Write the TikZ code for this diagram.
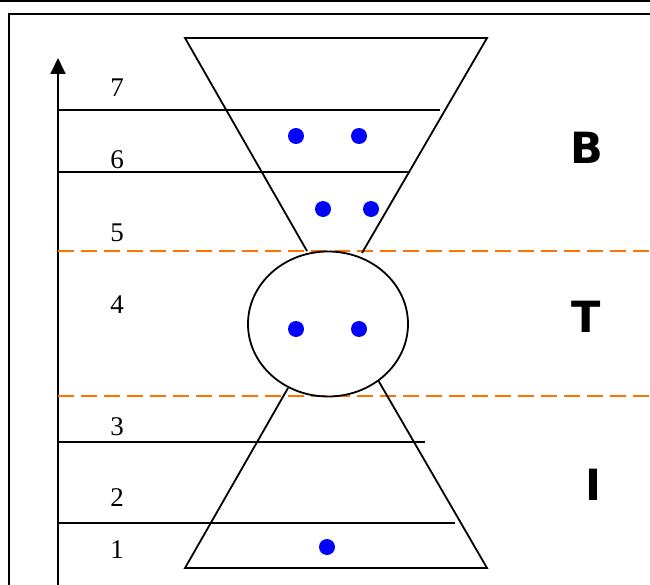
\documentclass[tikz,border=0pt]{standalone}
\usepackage{fontspec}
\setmainfont{Liberation Serif}
\newfontfamily\letrafont{DejaVu Sans}
\usetikzlibrary{shapes.geometric, arrows.meta, positioning}

\begin{document}
\begin{tikzpicture}[x=1pt, y=-1pt, line width=1.8pt,
    ponto/.style={circle, fill=blue, inner sep=0pt, minimum size=16},
    nivel/.style={font=\fontsize{27}{27}\selectfont},
    regiao/.style={font=\letrafont\fontsize{43}{43}\selectfont\bfseries},
    corte/.style={draw=orange!90!red, line width=2pt, dash pattern=on 16pt off 7pt}]
  \useasboundingbox (0,0) rectangle (650,585);
  % Moldura
  \draw[line width=2.2pt] (0,1) -- (650,1);
  \draw[line width=2.2pt] (9,585) -- (9,14) -- (650,14);
  % Eixo e niveis
  \coordinate (base) at (58,585);
  \coordinate (topo) at (58,58);
  \draw[-{Triangle[length=16,width=15]}] (base) -- (topo);
  \draw (58,110) -- (440,110);
  \draw (58,172) -- (410,172);
  \draw (58,442) -- (425,442);
  \draw (58,523) -- (455,523);
  \node[nivel] (n7) at (117,88) {7};
  \node[nivel] (n6) at (117,160) {6};
  \node[nivel] (n5) at (117,233) {5};
  \node[nivel] (n4) at (117,305) {4};
  \node[nivel] (n3) at (117,427) {3};
  \node[nivel] (n2) at (117,498) {2};
  \node[nivel] (n1) at (117,550) {1};
  % Linhas de corte
  \draw[corte] (58,251) -- (650,251);
  \draw[corte] (58,396) -- (650,396);
  % Funis e elipse
  \node[draw, ellipse, minimum width=160, minimum height=145, inner sep=0pt] (tr) at (328,324) {};
  \draw (307,251) -- (185,38) -- (487,38) -- (362,253);
  \draw (288,388) -- (185,568) -- (487,568) -- (378,380);
  % Pontos
  \node[ponto] (p1) at (296,136) {};
  \node[ponto] (p2) at (359,136) {};
  \node[ponto] (p3) at (323,209) {};
  \node[ponto] (p4) at (371,209) {};
  \node[ponto] (p5) at (296,329) {};
  \node[ponto] (p6) at (359,329) {};
  \node[ponto] (p7) at (327,547) {};
  % Regioes
  \node[regiao] (rb) at (587,148) {B};
  \node[regiao] (rt) at (586,317) {T};
  \node[regiao] (ri) at (593,485) {I};
\end{tikzpicture}
\end{document}
